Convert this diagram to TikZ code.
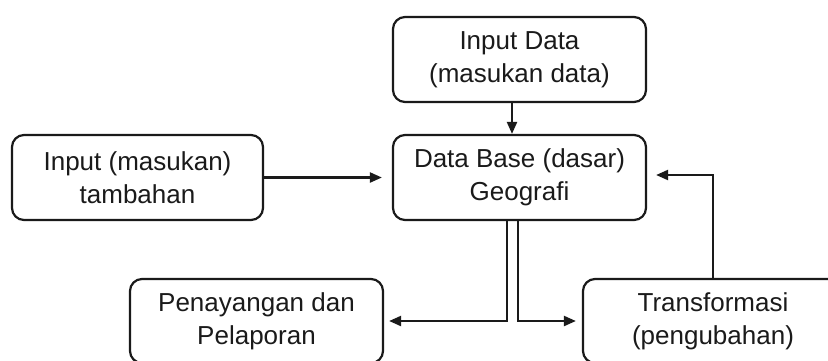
\documentclass[tikz,border=0pt]{standalone}
\usepackage{fontspec}
\setmainfont{Liberation Sans}
\usetikzlibrary{arrows.meta}
\definecolor{boxLine}{HTML}{1A1A1A}

\begin{document}
\begin{tikzpicture}[x=1pt, y=1pt, line width=2.2pt, draw=boxLine, >={Triangle[length=12pt,width=10pt]}]
  \tikzstyle{box}=[draw, rounded corners=12pt, align=center, inner sep=0pt,
                   font=\fontsize{26}{33}\selectfont, text=boxLine]
  \tikzstyle{arrow}=[->, line width=2.2pt]

  \clip (0,0) rectangle (828,-360);
  \useasboundingbox (0,0) rectangle (828,-360);

  % Draw the boxes
  \node[box, minimum width=253pt, minimum height=85pt] (inputdata) at (519.5,-59.5)
    {Input Data\\(masukan data)};
  \node[box, minimum width=253pt, minimum height=85pt] (database) at (519.5,-177.5)
    {Data Base (dasar)\\Geografi};
  \node[box, minimum width=251pt, minimum height=85pt] (tambahan) at (137.5,-177.5)
    {Input (masukan)\\tambahan};
  \node[box, minimum width=253pt, minimum height=84pt] (penayangan) at (256.5,-321)
    {Penayangan dan\\Pelaporan};
  \node[box, minimum width=260pt, minimum height=84pt] (transformasi) at (713,-321)
    {Transformasi\\(pengubahan)};

  % Connect inputs -> data base
  \draw[arrow] ([xshift=-7.5pt]inputdata.south) -- ([xshift=-7.5pt]database.north);
  \draw[arrow, shorten >=10pt] (tambahan) -- (database);

  % Connect data base -> outputs
  \draw[arrow, shorten >=5pt] ([xshift=-12.5pt]database.south) |- (penayangan.east);
  \draw[arrow, shorten >=6pt] ([xshift=-1.5pt]database.south) |- (transformasi.west);

  % feedback
  \draw[arrow, shorten >=9pt] (transformasi.north) |- ([yshift=2.5pt]database.east);
\end{tikzpicture}
\end{document}
